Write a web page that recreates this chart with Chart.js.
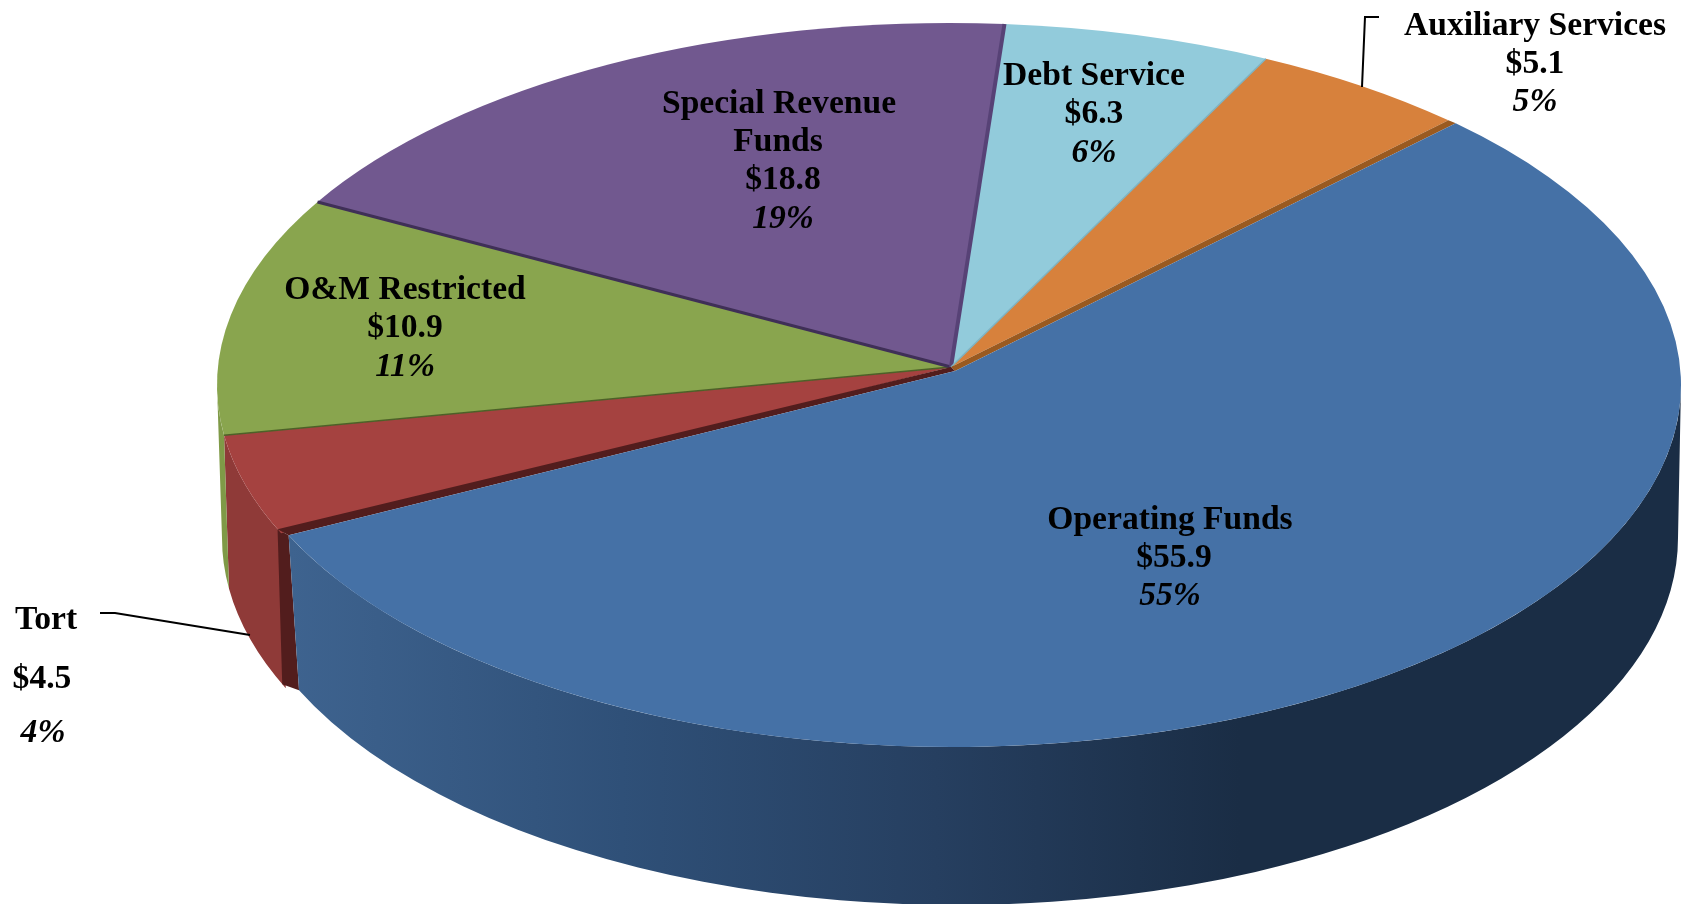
<!DOCTYPE html>
<html>
<head>
<meta charset="utf-8">
<title>Funds</title>
<script src="https://cdn.jsdelivr.net/npm/chart.js@4"></script>
<style>
  html, body { margin: 0; padding: 0; background: #fff; overflow: hidden; }
  canvas { display: block; }
</style>
</head>
<body>
<canvas id="pie" width="1681" height="904"></canvas>
<script>
const categories = ["Operating Funds", "Tort", "O&M Restricted", "Special Revenue Funds", "Debt Service", "Auxiliary Services"];
const amounts = [55.9, 4.5, 10.9, 18.8, 6.3, 5.1];
const percents = [55, 4, 11, 19, 6, 5];

const faceColors = ["#4571a6", "#a54240", "#89a54e", "#71588f", "#92cbdb", "#d7813c"];
const wallColors = [null, "#8f3a38", "#7f9a47", "#5e4977", "#7aa9b7", "#b36a30"];
const edgeColors = [null, "#4d6128", "#3f2f57", "#574276", "#7db3c2", null];
const edgeWidths = [0, 1.5, 3, 4, 1.5, 0];

// where the tilted pie sits on the page
const topRim = { x: 949, y: 385, rx: 732, ry: 362 };
const bottomRim = { x: 950, y: 538, rx: 728, ry: 367 };
// the big slice is pulled out a little, so its rims sit slightly inside
const opTopRim = { x: 952, y: 385, rx: 729, ry: 362 };
const opBottomRim = { x: 956, y: 538, rx: 722, ry: 367 };
const apex = { x: 951, y: 367 };
const opApex = { x: 955, y: 371 };
const tilt = 18 / 362;
const cutStart = 0.012;
const cutEndOuter = 0.012;
const cutEndInner = 0.006;

const labelBoxes = [
  { x: 1170, y: 520, lines: ["Operating Funds"], gap: 38, rowX: [1170, 1174, 1170] },
  { x: 44, y: 620, lines: ["Tort"], rowX: [46, 42, 43], rowY: [620, 679, 733] },
  { x: 405, y: 290, lines: ["O&M Restricted"], gap: 38.5 },
  { x: 778, y: 104, lines: ["Special Revenue", "Funds"], gap: 38.3, rowX: [779, 778, 783, 783] },
  { x: 1094, y: 76, lines: ["Debt Service"], gap: 38.5 },
  { x: 1535, y: 26, lines: ["Auxiliary Services"], gap: 38 }
];

const leaders = [
  [[100, 613], [115, 613], [250, 635]],
  [[1379, 17], [1365, 17], [1362, 87]]
];

// perspective: pie angle -> angle on the drawn ellipse, the centre moves up to the apex
function skewAngle(t) {
  const c = Math.cos(t), s = Math.sin(t);
  const den = 1 - tilt * s;
  const y = (s - tilt) / den;
  const x = c * Math.sqrt(1 - tilt * tilt) / den;
  let out = Math.atan2(y, x);
  while (out < t - Math.PI) out += Math.PI * 2;
  while (out > t + Math.PI) out -= Math.PI * 2;
  return out;
}

function rimPoint(rim, t) {
  return { x: rim.x + rim.rx * Math.cos(t), y: rim.y + rim.ry * Math.sin(t) };
}

function fillWedge(ctx, from, rim, a, b, color) {
  ctx.beginPath();
  ctx.moveTo(from.x, from.y);
  ctx.ellipse(rim.x, rim.y, rim.rx, rim.ry, 0, a, b);
  ctx.closePath();
  ctx.fillStyle = color;
  ctx.fill();
}

function fillWall(ctx, upper, lower, a, b, color) {
  ctx.beginPath();
  ctx.ellipse(upper.x, upper.y, upper.rx, upper.ry, 0, a, b);
  ctx.ellipse(lower.x, lower.y, lower.rx, lower.ry, 0, b, a, true);
  ctx.closePath();
  ctx.fillStyle = color;
  ctx.fill();
}

function fillPoly(ctx, points, color) {
  ctx.beginPath();
  points.forEach((p, i) => (i ? ctx.lineTo(p.x, p.y) : ctx.moveTo(p.x, p.y)));
  ctx.closePath();
  ctx.fillStyle = color;
  ctx.fill();
}

const pie3d = {
  id: "pie3d",
  beforeDatasetDraw(chart, args) {
    const ctx = chart.ctx;
    const arcs = chart.getDatasetMeta(args.index).data;
    const angles = arcs.map(arc => [skewAngle(arc.startAngle), skewAngle(arc.endAngle)]);
    const opStart = angles[0][0] + cutStart;
    const opEnd = angles[0][1] - cutEndInner;
    const tortStart = angles[0][1] + cutEndOuter;

    // side walls, only the part on the near half shows
    arcs.forEach((arc, i) => {
      if (i === 0) return;
      const lo = Math.max(angles[i][0], 0), hi = Math.min(angles[i][1], Math.PI);
      if (hi > lo) fillWall(ctx, topRim, bottomRim, lo, hi, wallColors[i]);
    });

    // cut face of the tort slice where the big slice pulls away
    fillPoly(ctx, [
      rimPoint(topRim, tortStart),
      rimPoint(opTopRim, opEnd),
      rimPoint(opBottomRim, opEnd),
      rimPoint(bottomRim, tortStart)
    ], "#521d1d");

    const shade = ctx.createLinearGradient(290, 0, 1240, 0);
    shade.addColorStop(0, "#3e638f");
    shade.addColorStop(0.35, "#2f5078");
    shade.addColorStop(0.68, "#263f60");
    shade.addColorStop(1, "#1a2d45");
    fillWall(ctx, opTopRim, opBottomRim, 0, opEnd, shade);

    // top faces
    arcs.forEach((arc, i) => {
      if (i > 0) fillWedge(ctx, apex, topRim, angles[i][0], angles[i][1], faceColors[i]);
    });

    // dark slice edges
    arcs.forEach((arc, i) => {
      if (!edgeColors[i]) return;
      const p = rimPoint(topRim, angles[i][1]);
      ctx.beginPath();
      ctx.moveTo(apex.x, apex.y);
      ctx.lineTo(p.x, p.y);
      ctx.strokeStyle = edgeColors[i];
      ctx.lineWidth = edgeWidths[i];
      ctx.stroke();
    });

    fillPoly(ctx, [apex, rimPoint(topRim, angles[0][0]), rimPoint(opTopRim, opStart), opApex], "#9a5a20");
    fillPoly(ctx, [apex, rimPoint(topRim, tortStart), rimPoint(opTopRim, opEnd), opApex], "#521d1d");
    fillWedge(ctx, opApex, opTopRim, opStart, opEnd, faceColors[0]);
    return false;
  },
  afterDatasetsDraw(chart) {
    const ctx = chart.ctx;
    ctx.save();
    ctx.strokeStyle = "#000";
    ctx.lineWidth = 2;
    leaders.forEach(line => {
      ctx.beginPath();
      line.forEach((p, i) => (i ? ctx.lineTo(p[0], p[1]) : ctx.moveTo(p[0], p[1])));
      ctx.stroke();
    });

    ctx.fillStyle = "#000";
    ctx.textAlign = "center";
    ctx.textBaseline = "middle";
    labelBoxes.forEach((box, i) => {
      const rows = box.lines.concat(["$" + amounts[i].toFixed(1), percents[i] + "%"]);
      rows.forEach((text, r) => {
        ctx.font = (r === rows.length - 1 ? "italic " : "") + "bold 33.6px 'Liberation Serif'";
        const x = box.rowX ? box.rowX[r] : box.x;
        const y = box.rowY ? box.rowY[r] : box.y + r * box.gap;
        ctx.fillText(text, x, y);
      });
    });
    ctx.restore();
  }
};

new Chart(document.getElementById("pie"), {
  type: "pie",
  data: {
    labels: categories,
    datasets: [{ data: amounts, backgroundColor: faceColors, borderWidth: 0 }]
  },
  options: {
    responsive: false,
    animation: false,
    rotation: 45,
    plugins: { legend: { display: false }, tooltip: { enabled: false } }
  },
  plugins: [pie3d]
});
</script>
</body>
</html>
